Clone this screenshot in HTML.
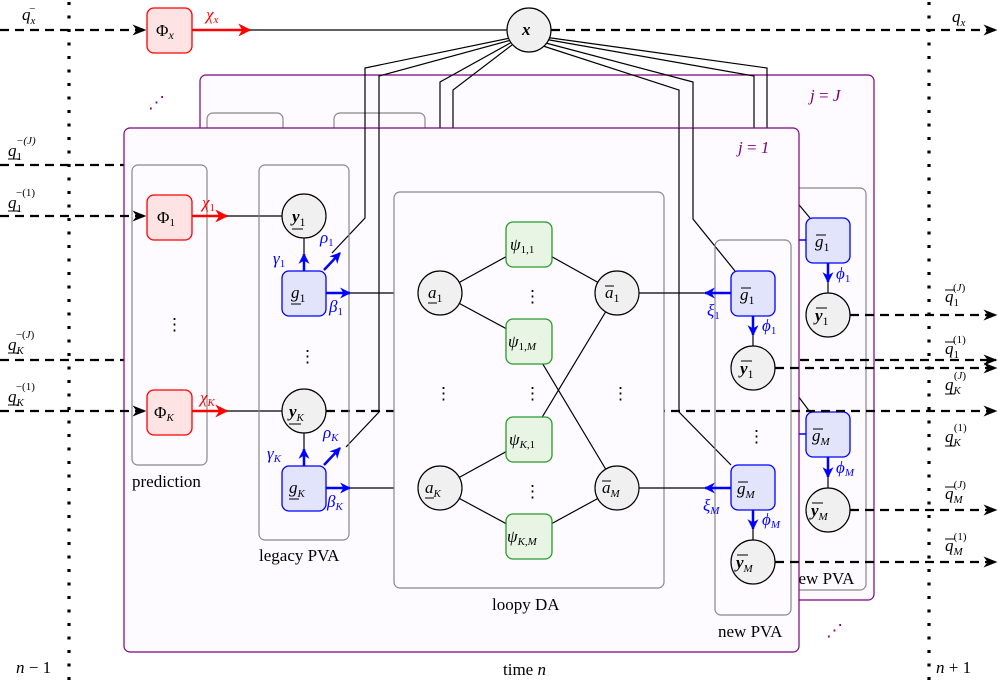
<!DOCTYPE html>
<html><head><meta charset="utf-8"><style>
html,body{margin:0;padding:0;background:#fff}
svg{display:block}
text{font-family:"Liberation Serif",serif;font-size:17px}
.m{font-style:italic}
.b{fill:#00f}
.r{fill:#f00}
.p{fill:#800080}
</style></head><body>
<svg width="998" height="683" viewBox="0 0 998 683" xmlns="http://www.w3.org/2000/svg">
<defs>
<marker id="ak" viewBox="0 0 10 10" refX="9" refY="5" markerWidth="8" markerHeight="8" orient="auto" markerUnits="userSpaceOnUse"><path d="M0,0 L10,5 L0,10 L3,5z" fill="#000"/></marker>
<marker id="ab" viewBox="0 0 10 10" refX="9" refY="5" markerWidth="11" markerHeight="11" orient="auto" markerUnits="userSpaceOnUse"><path d="M0,0 L10,5 L0,10 L3,5z" fill="#00f"/></marker>
<marker id="ar" viewBox="0 0 10 10" refX="9" refY="5" markerWidth="13" markerHeight="13" orient="auto" markerUnits="userSpaceOnUse"><path d="M0,0 L10,5 L0,10 L3,5z" fill="#f00"/></marker>
<marker id="ad" viewBox="0 0 10 10" refX="9" refY="5" markerWidth="14" markerHeight="14" orient="auto" markerUnits="userSpaceOnUse"><path d="M0,1 L10,5 L0,9 L3,5z" fill="#000"/></marker>
</defs>

<!-- dotted time lines -->
<line x1="69" y1="2" x2="69" y2="683" stroke="#000" stroke-width="3.2" stroke-dasharray="3 10.5"/>
<line x1="929" y1="2" x2="929" y2="683" stroke="#000" stroke-width="3.2" stroke-dasharray="3 10.5"/>

<!-- top row -->
<line x1="0" y1="30" x2="145" y2="30" stroke="#000" stroke-width="2.2" stroke-dasharray="9 6" marker-end="url(#ad)"/>
<rect x="147" y="8" width="45" height="45" rx="7" fill="#fde3e3" stroke="#f00" stroke-width="1.3"/>
<text x="156" y="36" >Φ<tspan class="m" font-size="12" dy="3">x</tspan></text>
<line x1="192" y1="30" x2="250" y2="30" stroke="#f00" stroke-width="2.5" marker-end="url(#ar)"/>
<text x="206" y="20" class="r m">χ<tspan font-size="11" dy="3">x</tspan></text>
<line x1="250" y1="30" x2="507" y2="30" stroke="#000" stroke-width="1.2"/>
<line x1="551" y1="30" x2="996" y2="30" stroke="#000" stroke-width="2.2" stroke-dasharray="9 6" marker-end="url(#ad)"/>
<text x="22" y="20" class="m">q<tspan font-size="11" dy="4">x</tspan><tspan font-size="11" dx="-7" dy="-12">−</tspan></text>
<text x="952" y="22" class="m">q<tspan font-size="11" dy="4">x</tspan></text>

<!-- back frame -->
<rect x="200" y="75" width="674" height="525" rx="6" fill="#fdfbff" stroke="#800080" stroke-width="1.2"/>
<text x="810" y="101" class="p m">j <tspan font-style="normal">=</tspan> J</text>
<text x="148" y="108" class="p" font-size="20">⋰</text>
<rect x="207" y="113" width="76" height="40" rx="6" fill="none" stroke="#888" stroke-width="1.2"/>
<rect x="334" y="113" width="91" height="40" rx="6" fill="none" stroke="#888" stroke-width="1.2"/>

<!-- lines from x -->
<g fill="none" stroke="#000" stroke-width="1.2">
<polyline points="515,37 365,68 365,218 332,253"/>
<polyline points="515,39 379,76 379,412 346,447"/>
<polyline points="512,42 440,82 440,128"/>
<polyline points="512,45 453,90 453,128"/>
<polyline points="544,37 767,68 767,128"/>
<polyline points="544,39 754,76 754,128"/>
<polyline points="542,42 693,82 693,219 735,271"/>
<polyline points="540,45 679,90 679,412 731,465"/>
</g>

<rect x="780" y="188" width="86" height="402" rx="6" fill="#fdfbff" stroke="#888" stroke-width="1.2"/>
<text x="790" y="584" font-size="15">new PVA</text>
<line x1="795" y1="200" x2="810" y2="218" stroke="#000" stroke-width="1.2"/>
<line x1="795" y1="392" x2="810" y2="412" stroke="#000" stroke-width="1.2"/>
<line x1="795" y1="240" x2="806" y2="240" stroke="#00f" stroke-width="1.5"/>
<line x1="795" y1="434" x2="806" y2="434" stroke="#00f" stroke-width="1.5"/>
<rect x="806" y="218" width="44" height="45" rx="7" fill="#e2e4fc" stroke="#00f" stroke-width="1.3"/>
<text x="815" y="247" class="m">g<tspan font-style="normal" font-size="12" dy="4">1</tspan></text>
<line x1="816" y1="235" x2="826" y2="235" stroke="#000"/>
<line x1="828" y1="263" x2="828" y2="282" stroke="#00f" stroke-width="2.5" marker-end="url(#ab)"/>
<line x1="828" y1="282" x2="828" y2="293" stroke="#000" stroke-width="1.2"/>
<text x="836" y="279" class="b m" font-size="15">ϕ<tspan font-style="normal" font-size="11" dy="3">1</tspan></text>
<circle cx="828" cy="315" r="22" fill="#f0f0f0" stroke="#000" stroke-width="1.2"/>
<text x="815" y="321" class="m" font-weight="bold">y<tspan font-style="normal" font-weight="normal" font-size="12" dy="4">1</tspan></text>
<line x1="816" y1="308" x2="827" y2="308" stroke="#000"/>
<rect x="806" y="412" width="44" height="45" rx="7" fill="#e2e4fc" stroke="#00f" stroke-width="1.3"/>
<text x="812" y="441" class="m">g<tspan font-size="11" dy="4">M</tspan></text>
<line x1="813" y1="429" x2="823" y2="429" stroke="#000"/>
<line x1="828" y1="457" x2="828" y2="477" stroke="#00f" stroke-width="2.5" marker-end="url(#ab)"/>
<line x1="828" y1="477" x2="828" y2="488" stroke="#000" stroke-width="1.2"/>
<text x="836" y="473" class="b m" font-size="15">ϕ<tspan font-size="11" dy="3">M</tspan></text>
<circle cx="828" cy="510" r="22" fill="#f0f0f0" stroke="#000" stroke-width="1.2"/>
<text x="811" y="516" class="m" font-weight="bold">y<tspan font-weight="normal" font-size="11" dy="4">M</tspan></text>
<line x1="812" y1="503" x2="823" y2="503" stroke="#000"/>

<!-- back-layer dashed lines -->
<g stroke="#000" stroke-width="2.2" stroke-dasharray="9 6" fill="none">
<line x1="0" y1="165" x2="124" y2="165"/>
<line x1="0" y1="360" x2="124" y2="360"/>
<line x1="800" y1="360" x2="996" y2="360" marker-end="url(#ad)"/>
<line x1="850" y1="315" x2="996" y2="315" marker-end="url(#ad)"/>
<line x1="850" y1="510" x2="996" y2="510" marker-end="url(#ad)"/>
</g>
<text x="826" y="636" class="p" font-size="20">⋰</text>

<!-- front frame -->
<rect x="124" y="128" width="675" height="524" rx="6" fill="#fdfbff" stroke="#800080" stroke-width="1.2"/>
<text x="738" y="153" class="p m">j <tspan font-style="normal">=</tspan> 1</text>
<g fill="none" stroke="#000" stroke-width="1.2">
<polyline points="365,128 365,218 332,253"/>
<polyline points="379,128 379,412 346,447"/>
<polyline points="693,128 693,219 735,271"/>
<polyline points="679,128 679,412 731,465"/>
</g>
<line x1="326" y1="411" x2="996" y2="411" stroke="#000" stroke-width="2.2" stroke-dasharray="9 6" marker-end="url(#ad)"/>

<!-- prediction -->
<rect x="132" y="165" width="75" height="300" rx="6" fill="none" stroke="#888" stroke-width="1.2"/>
<text x="132" y="487" font-size="15">prediction</text>
<line x1="0" y1="216" x2="145" y2="216" stroke="#000" stroke-width="2.2" stroke-dasharray="9 6" marker-end="url(#ad)"/>
<line x1="0" y1="411" x2="145" y2="411" stroke="#000" stroke-width="2.2" stroke-dasharray="9 6" marker-end="url(#ad)"/>
<rect x="147" y="195" width="45" height="45" rx="7" fill="#fde3e3" stroke="#f00" stroke-width="1.3"/>
<text x="157" y="223">Φ<tspan font-size="11" dy="3">1</tspan></text>
<rect x="147" y="390" width="45" height="45" rx="7" fill="#fde3e3" stroke="#f00" stroke-width="1.3"/>
<text x="154" y="418">Φ<tspan class="m" font-size="11" dy="3">K</tspan></text>
<text x="166" y="330" font-size="18">⋮</text>
<line x1="192" y1="216" x2="227" y2="216" stroke="#f00" stroke-width="2.5" marker-end="url(#ar)"/>
<line x1="192" y1="411" x2="227" y2="411" stroke="#f00" stroke-width="2.5" marker-end="url(#ar)"/>
<text x="202" y="208" class="r m">χ<tspan font-style="normal" font-size="11" dy="3">1</tspan></text>
<text x="200" y="403" class="r m">χ<tspan font-size="11" dy="3">K</tspan></text>
<line x1="227" y1="216" x2="282" y2="216" stroke="#000" stroke-width="1.2"/>
<line x1="227" y1="411" x2="282" y2="411" stroke="#000" stroke-width="1.2"/>

<!-- legacy PVA -->
<rect x="259" y="165" width="90" height="375" rx="6" fill="none" stroke="#888" stroke-width="1.2"/>
<text x="259" y="561" font-size="15">legacy PVA</text>
<circle cx="304" cy="216" r="22" fill="#f0f0f0" stroke="#000" stroke-width="1.2"/>
<text x="292" y="222" class="m" font-weight="bold">y<tspan font-style="normal" font-weight="normal" font-size="12" dy="4">1</tspan></text>
<line x1="292" y1="229" x2="303" y2="229" stroke="#000"/>
<circle cx="304" cy="411" r="22" fill="#f0f0f0" stroke="#000" stroke-width="1.2"/>
<text x="289" y="417" class="m" font-weight="bold">y<tspan font-weight="normal" font-size="11" dy="4">K</tspan></text>
<line x1="289" y1="424" x2="301" y2="424" stroke="#000"/>
<text x="299" y="362" font-size="18">⋮</text>
<rect x="282" y="271" width="44" height="45" rx="7" fill="#e2e4fc" stroke="#00f" stroke-width="1.3"/>
<text x="291" y="298" class="m">g<tspan font-style="normal" font-size="12" dy="4">1</tspan></text>
<line x1="291" y1="304" x2="301" y2="304" stroke="#000"/>
<rect x="282" y="466" width="44" height="45" rx="7" fill="#e2e4fc" stroke="#00f" stroke-width="1.3"/>
<text x="289" y="493" class="m">g<tspan font-size="11" dy="4">K</tspan></text>
<line x1="289" y1="499" x2="299" y2="499" stroke="#000"/>
<line x1="304" y1="238" x2="304" y2="258" stroke="#000" stroke-width="1.2"/>
<line x1="304" y1="271" x2="304" y2="254" stroke="#00f" stroke-width="2.5" marker-end="url(#ab)"/>
<line x1="304" y1="433" x2="304" y2="453" stroke="#000" stroke-width="1.2"/>
<line x1="304" y1="466" x2="304" y2="449" stroke="#00f" stroke-width="2.5" marker-end="url(#ab)"/>
<line x1="324" y1="270" x2="340" y2="253" stroke="#00f" stroke-width="2.5" marker-end="url(#ab)"/>
<line x1="324" y1="465" x2="340" y2="448" stroke="#00f" stroke-width="2.5" marker-end="url(#ab)"/>
<text x="273" y="264" class="b m" font-size="15">γ<tspan font-style="normal" font-size="11" dy="3">1</tspan></text>
<text x="267" y="459" class="b m" font-size="15">γ<tspan font-size="11" dy="3">K</tspan></text>
<text x="320" y="243" class="b m" font-size="15">ρ<tspan font-style="normal" font-size="11" dy="3">1</tspan></text>
<text x="323" y="438" class="b m" font-size="15">ρ<tspan font-size="11" dy="3">K</tspan></text>
<line x1="326" y1="293" x2="350" y2="293" stroke="#00f" stroke-width="2.5" marker-end="url(#ab)"/>
<line x1="326" y1="488" x2="350" y2="488" stroke="#00f" stroke-width="2.5" marker-end="url(#ab)"/>
<text x="329" y="312" class="b m" font-size="15">β<tspan font-style="normal" font-size="11" dy="3">1</tspan></text>
<text x="327" y="507" class="b m" font-size="15">β<tspan font-size="11" dy="3">K</tspan></text>
<line x1="350" y1="293" x2="418" y2="293" stroke="#000" stroke-width="1.2"/>
<line x1="350" y1="488" x2="418" y2="488" stroke="#000" stroke-width="1.2"/>

<!-- loopy DA -->
<rect x="394" y="192" width="270" height="396" rx="6" fill="#fdfbff" stroke="#888" stroke-width="1.2"/>
<text x="492" y="610" font-size="15">loopy DA</text>
<g stroke="#000" stroke-width="1.2">
<line x1="440" y1="293" x2="529" y2="244"/>
<line x1="440" y1="293" x2="529" y2="341"/>
<line x1="440" y1="488" x2="529" y2="439"/>
<line x1="440" y1="488" x2="529" y2="536"/>
<line x1="617" y1="293" x2="529" y2="244"/>
<line x1="617" y1="293" x2="529" y2="439"/>
<line x1="617" y1="488" x2="529" y2="341"/>
<line x1="617" y1="488" x2="529" y2="536"/>
<line x1="639" y1="293" x2="705" y2="293"/>
<line x1="639" y1="488" x2="705" y2="488"/>
</g>
<g fill="#e8f4e4" stroke="#2a9a2a" stroke-width="1.3">
<rect x="506" y="222" width="46" height="45" rx="7"/>
<rect x="506" y="319" width="46" height="45" rx="7"/>
<rect x="506" y="417" width="46" height="45" rx="7"/>
<rect x="506" y="514" width="46" height="45" rx="7"/>
</g>
<text x="510" y="250" class="m">ψ<tspan font-style="normal" font-size="11" dy="3">1,1</tspan></text>
<text x="508" y="347" class="m">ψ<tspan font-style="normal" font-size="11" dy="3">1,<tspan font-style="italic">M</tspan></tspan></text>
<text x="509" y="445" class="m">ψ<tspan font-size="11" dy="3">K<tspan font-style="normal">,1</tspan></tspan></text>
<text x="507" y="542" class="m">ψ<tspan font-size="11" dy="3">K<tspan font-style="normal">,</tspan>M</tspan></text>
<text x="524" y="302" font-size="18">⋮</text>
<text x="524" y="399" font-size="18">⋮</text>
<text x="524" y="497" font-size="18">⋮</text>
<text x="435" y="399" font-size="18">⋮</text>
<text x="612" y="399" font-size="18">⋮</text>
<g fill="#f0f0f0" stroke="#000" stroke-width="1.2">
<circle cx="440" cy="293" r="22"/><circle cx="440" cy="488" r="22"/>
<circle cx="617" cy="293" r="22"/><circle cx="617" cy="488" r="22"/>
</g>
<text x="428" y="298" class="m">a<tspan font-style="normal" font-size="12" dy="4">1</tspan></text>
<line x1="428" y1="303" x2="437" y2="303" stroke="#000"/>
<text x="425" y="493" class="m">a<tspan font-size="11" dy="4">K</tspan></text>
<line x1="425" y1="498" x2="434" y2="498" stroke="#000"/>
<text x="605" y="298" class="m">a<tspan font-style="normal" font-size="12" dy="4">1</tspan></text>
<line x1="605" y1="286" x2="614" y2="286" stroke="#000"/>
<text x="602" y="493" class="m">a<tspan font-size="11" dy="4">M</tspan></text>
<line x1="602" y1="481" x2="611" y2="481" stroke="#000"/>

<!-- new PVA front -->
<rect x="715" y="240" width="76" height="375" rx="6" fill="none" stroke="#888" stroke-width="1.2"/>
<text x="718" y="637" font-size="15">new PVA</text>
<line x1="731" y1="293" x2="705" y2="293" stroke="#00f" stroke-width="2.5" marker-end="url(#ab)"/>
<line x1="731" y1="488" x2="705" y2="488" stroke="#00f" stroke-width="2.5" marker-end="url(#ab)"/>
<text x="707" y="316" class="b m" font-size="15">ξ<tspan font-style="normal" font-size="11" dy="3">1</tspan></text>
<text x="703" y="511" class="b m" font-size="15">ξ<tspan font-size="11" dy="3">M</tspan></text>
<rect x="731" y="271" width="44" height="45" rx="7" fill="#e2e4fc" stroke="#00f" stroke-width="1.3"/>
<text x="740" y="300" class="m">g<tspan font-style="normal" font-size="12" dy="4">1</tspan></text>
<line x1="741" y1="288" x2="751" y2="288" stroke="#000"/>
<rect x="731" y="465" width="44" height="45" rx="7" fill="#e2e4fc" stroke="#00f" stroke-width="1.3"/>
<text x="737" y="494" class="m">g<tspan font-size="11" dy="4">M</tspan></text>
<line x1="738" y1="482" x2="748" y2="482" stroke="#000"/>
<line x1="753" y1="316" x2="753" y2="335" stroke="#00f" stroke-width="2.5" marker-end="url(#ab)"/>
<line x1="753" y1="335" x2="753" y2="346" stroke="#000" stroke-width="1.2"/>
<line x1="753" y1="510" x2="753" y2="529" stroke="#00f" stroke-width="2.5" marker-end="url(#ab)"/>
<line x1="753" y1="529" x2="753" y2="540" stroke="#000" stroke-width="1.2"/>
<text x="762" y="331" class="b m" font-size="15">ϕ<tspan font-style="normal" font-size="11" dy="3">1</tspan></text>
<text x="762" y="525" class="b m" font-size="15">ϕ<tspan font-size="11" dy="3">M</tspan></text>
<text x="748" y="442" font-size="18">⋮</text>
<line x1="775" y1="368" x2="996" y2="368" stroke="#000" stroke-width="2.2" stroke-dasharray="9 6" marker-end="url(#ad)"/>
<line x1="775" y1="562" x2="996" y2="562" stroke="#000" stroke-width="2.2" stroke-dasharray="9 6" marker-end="url(#ad)"/>
<circle cx="753" cy="368" r="22" fill="#f0f0f0" stroke="#000" stroke-width="1.2"/>
<text x="740" y="374" class="m" font-weight="bold">y<tspan font-style="normal" font-weight="normal" font-size="12" dy="4">1</tspan></text>
<line x1="741" y1="361" x2="752" y2="361" stroke="#000"/>
<circle cx="753" cy="562" r="22" fill="#f0f0f0" stroke="#000" stroke-width="1.2"/>
<text x="736" y="568" class="m" font-weight="bold">y<tspan font-weight="normal" font-size="11" dy="4">M</tspan></text>
<line x1="737" y1="555" x2="748" y2="555" stroke="#000"/>

<!-- x node -->
<circle cx="529" cy="30" r="22" fill="#f0f0f0" stroke="#000" stroke-width="1.2"/>
<text x="522" y="35" class="m" font-weight="bold">x</text>

<!-- left labels -->
<text x="8" y="156" class="m">q<tspan font-style="normal" font-size="11" dy="4">1</tspan><tspan font-size="11" dx="-6" dy="-16">−(<tspan font-style="italic">J</tspan>)</tspan></text>
<line x1="8" y1="159" x2="19" y2="159" stroke="#000"/>
<text x="8" y="208" class="m">q<tspan font-style="normal" font-size="11" dy="4">1</tspan><tspan font-style="normal" font-size="11" dx="-6" dy="-16">−(1)</tspan></text>
<line x1="8" y1="211" x2="19" y2="211" stroke="#000"/>
<text x="8" y="350" class="m">q<tspan font-size="11" dy="4">K</tspan><tspan font-style="normal" font-size="11" dx="-8" dy="-16">−(<tspan font-style="italic">J</tspan>)</tspan></text>
<line x1="8" y1="353" x2="19" y2="353" stroke="#000"/>
<text x="8" y="402" class="m">q<tspan font-size="11" dy="4">K</tspan><tspan font-style="normal" font-size="11" dx="-8" dy="-16">−(1)</tspan></text>
<line x1="8" y1="405" x2="19" y2="405" stroke="#000"/>

<!-- right labels -->
<text x="945" y="302" class="m">q<tspan font-style="normal" font-size="11" dy="4">1</tspan><tspan font-style="normal" font-size="11" dx="-6" dy="-15">(<tspan font-style="italic">J</tspan>)</tspan></text>
<line x1="945" y1="290" x2="955" y2="290" stroke="#000"/>
<text x="945" y="354" class="m">q<tspan font-style="normal" font-size="11" dy="4">1</tspan><tspan font-style="normal" font-size="11" dx="-6" dy="-15">(1)</tspan></text>
<line x1="945" y1="342" x2="955" y2="342" stroke="#000"/>
<text x="945" y="390" class="m">q<tspan font-size="11" dy="4">K</tspan><tspan font-style="normal" font-size="11" dx="-7" dy="-15">(<tspan font-style="italic">J</tspan>)</tspan></text>
<line x1="945" y1="394" x2="955" y2="394" stroke="#000"/>
<text x="945" y="442" class="m">q<tspan font-size="11" dy="4">K</tspan><tspan font-style="normal" font-size="11" dx="-7" dy="-15">(1)</tspan></text>
<line x1="945" y1="446" x2="955" y2="446" stroke="#000"/>
<text x="945" y="499" class="m">q<tspan font-size="11" dy="4">M</tspan><tspan font-style="normal" font-size="11" dx="-9" dy="-15">(<tspan font-style="italic">J</tspan>)</tspan></text>
<line x1="945" y1="487" x2="955" y2="487" stroke="#000"/>
<text x="945" y="551" class="m">q<tspan font-size="11" dy="4">M</tspan><tspan font-style="normal" font-size="11" dx="-9" dy="-15">(1)</tspan></text>
<line x1="945" y1="539" x2="955" y2="539" stroke="#000"/>

<!-- time labels -->
<text x="16" y="673" class="m">n <tspan font-style="normal">− 1</tspan></text>
<text x="936" y="673" class="m">n <tspan font-style="normal">+ 1</tspan></text>
<text x="503" y="675" font-size="15">time <tspan class="m">n</tspan></text>
</svg>
</body></html>
